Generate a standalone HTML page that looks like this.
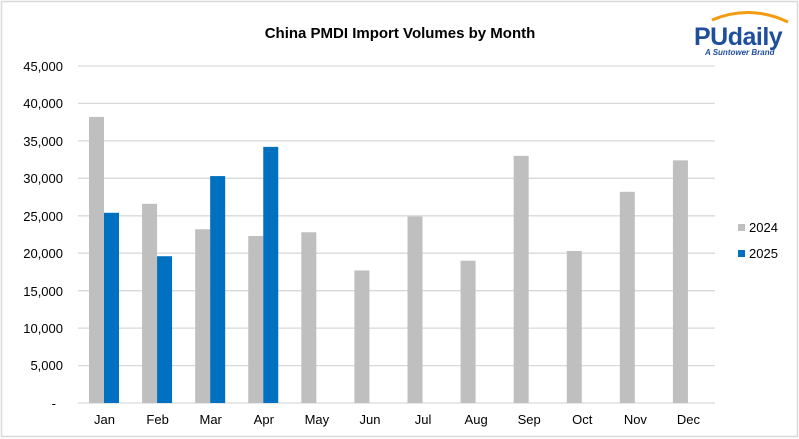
<!DOCTYPE html>
<html><head><style>body{margin:0;background:#fff}svg{display:block;font-family:"Liberation Sans",Arial,sans-serif}</style></head><body>
<svg width="799" height="439" xmlns="http://www.w3.org/2000/svg">
<rect x="1.5" y="1.5" width="796" height="435" fill="#fff" stroke="#d9d9d9" stroke-width="1.5"/>
<text x="400" y="38" text-anchor="middle" font-size="15" font-weight="bold" fill="#000">China PMDI Import Volumes by Month</text>
<g stroke="#d9d9d9" stroke-width="1.3">
<line x1="78" x2="715" y1="66" y2="66"/><line x1="78" x2="715" y1="103.4" y2="103.4"/><line x1="78" x2="715" y1="140.9" y2="140.9"/><line x1="78" x2="715" y1="178.3" y2="178.3"/><line x1="78" x2="715" y1="215.8" y2="215.8"/><line x1="78" x2="715" y1="253.2" y2="253.2"/><line x1="78" x2="715" y1="290.7" y2="290.7"/><line x1="78" x2="715" y1="328.1" y2="328.1"/><line x1="78" x2="715" y1="365.6" y2="365.6"/><line x1="78" x2="715" y1="403" y2="403"/>
</g>
<g font-size="13" fill="#000" text-anchor="end">
<text x="63" y="71">45,000</text><text x="63" y="108">40,000</text><text x="63" y="146">35,000</text><text x="63" y="183">30,000</text><text x="63" y="221">25,000</text><text x="63" y="258">20,000</text><text x="63" y="296">15,000</text><text x="63" y="333">10,000</text><text x="63" y="370">5,000</text><text x="56" y="408">-</text>
</g>
<g id="bars"></g>
<g font-size="13" fill="#000" text-anchor="middle" id="labs"></g>
<rect x="738" y="224" width="7" height="7" fill="#bfbfbf"/><text x="749" y="232" font-size="13">2024</text>
<rect x="738" y="250" width="7" height="7" fill="#0070c0"/><text x="749" y="258" font-size="13">2025</text>
<path d="M712 20 Q750 4 788 22" stroke="#f39c12" stroke-width="3" fill="none"/>
<text x="694" y="45" font-size="25" font-weight="bold" fill="#1f4e9c" letter-spacing="-0.5">PUdaily</text>
<text x="705" y="55" font-size="8" font-style="italic" font-weight="bold" fill="#1f4e9c">A Suntower Brand</text>
<script>
var g24=[38200,26600,23200,22300,22800,17700,24900,19000,33000,20300,28200,32400],g25=[25400,19600,30300,34200];
var m=["Jan","Feb","Mar","Apr","May","Jun","Jul","Aug","Sep","Oct","Nov","Dec"];
var b=document.getElementById("bars"),l=document.getElementById("labs"),ns="http://www.w3.org/2000/svg";
function r(x,v,c){var e=document.createElementNS(ns,"rect");var h=v/45000*337;e.setAttribute("x",x);e.setAttribute("y",403-h);e.setAttribute("width",15);e.setAttribute("height",h);e.setAttribute("fill",c);b.appendChild(e);}
var w=(715-78)/12;
for(var i=0;i<12;i++){var x=78+w*i+11;r(x,g24[i],"#bfbfbf");if(i<4)r(x+15,g25[i],"#0070c0");
var t=document.createElementNS(ns,"text");t.setAttribute("x",78+w*i+w/2);t.setAttribute("y",424);t.textContent=m[i];l.appendChild(t);}
</script>
</svg>
</body></html>
